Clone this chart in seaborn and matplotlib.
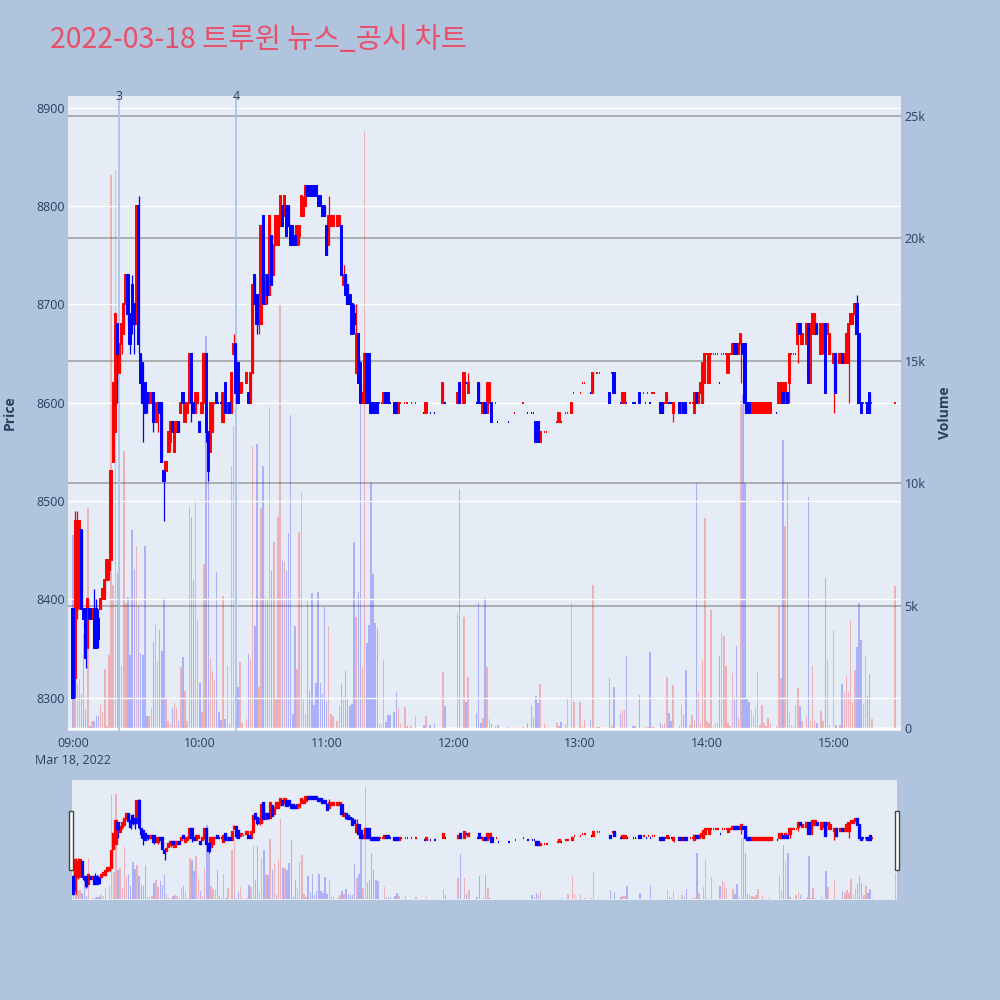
import matplotlib
matplotlib.use("Agg")
import matplotlib.pyplot as plt
from matplotlib.patches import Rectangle
import numpy as np
import pandas as pd
import seaborn as sns

# ---------------- data ----------------
title = "2022-03-18 트루윈 뉴스_공시 차트"

# minutes after 09:00 (only minutes with trades)
minute = [0, 1, 2, 3, 4, 5, 6, 7, 8, 9,
          10, 11, 12, 13, 14, 15, 16, 17, 18, 19,
          20, 21, 22, 23, 24, 25, 26, 27, 28, 29,
          30, 31, 32, 33, 34, 35, 36, 37, 38, 39,
          40, 41, 42, 43, 44, 45, 46, 47, 48, 49,
          50, 51, 52, 53, 54, 55, 56, 57, 58, 59,
          60, 61, 62, 63, 64, 65, 66, 67, 68, 69,
          70, 71, 72, 73, 74, 75, 76, 77, 78, 79,
          80, 82, 83, 84, 85, 86, 87, 88, 89, 90,
          91, 92, 93, 94, 95, 96, 97, 98, 99, 100,
          101, 102, 103, 104, 105, 106, 107, 108, 109, 110,
          111, 112, 113, 114, 115, 116, 117, 118, 119, 120,
          121, 122, 123, 125, 126, 127, 128, 129, 130, 131,
          132, 133, 134, 135, 136, 137, 138, 139, 140, 141,
          142, 143, 144, 145, 146, 147, 148, 149, 150, 152,
          153, 154, 155, 157, 158, 160, 162, 166, 167, 169,
          171, 175, 176, 182, 183, 185, 186, 187, 191, 192,
          193, 194, 195, 196, 197, 198, 200, 201, 206, 209,
          213, 215, 217, 218, 219, 220, 221, 223, 224, 229,
          230, 231, 233, 234, 236, 237, 240, 241, 242, 245,
          246, 248, 249, 254, 255, 256, 259, 260, 261, 262,
          265, 266, 268, 270, 271, 272, 273, 274, 275, 278,
          279, 280, 281, 282, 283, 284, 287, 288, 289, 290,
          292, 293, 294, 295, 296, 297, 298, 299, 300, 301,
          302, 303, 304, 305, 306, 307, 308, 309, 310, 311,
          312, 313, 314, 315, 316, 317, 318, 319, 320, 321,
          322, 323, 324, 325, 326, 327, 328, 329, 330, 333,
          334, 335, 336, 337, 338, 339, 340, 341, 342, 343,
          344, 345, 347, 348, 349, 350, 351, 352, 354, 355,
          356, 357, 358, 360, 361, 363, 364, 365, 366, 367,
          368, 369, 370, 371, 372, 373, 374, 375, 376, 377,
          378, 389]

open_ = [8390, 8320, 8390, 8470, 8470, 8390, 8390, 8350, 8390, 8380,
         8390, 8390, 8380, 8390, 8400, 8400, 8420, 8430, 8440, 8540,
         8570, 8680, 8630, 8660, 8670, 8700, 8730, 8690, 8720, 8700,
         8680, 8800, 8650, 8640, 8620, 8610, 8600, 8600, 8610, 8580,
         8580, 8600, 8600, 8530, 8530, 8550, 8560, 8580, 8550, 8570,
         8580, 8590, 8610, 8580, 8590, 8600, 8650, 8600, 8590, 8600,
         8580, 8590, 8600, 8650, 8570, 8550, 8570, 8600, 8610, 8600,
         8600, 8580, 8620, 8590, 8600, 8590, 8650, 8660, 8640, 8610,
         8620, 8620, 8610, 8600, 8630, 8730, 8710, 8680, 8680, 8790,
         8700, 8730, 8710, 8770, 8730, 8760, 8760, 8780, 8800, 8790,
         8800, 8800, 8780, 8780, 8770, 8760, 8770, 8790, 8790, 8800,
         8820, 8820, 8820, 8820, 8820, 8810, 8810, 8800, 8800, 8780,
         8760, 8780, 8780, 8780, 8780, 8780, 8720, 8730, 8720, 8710,
         8700, 8690, 8630, 8670, 8640, 8600, 8600, 8650, 8650, 8600,
         8600, 8600, 8600, 8600, 8600, 8600, 8610, 8610, 8600, 8600,
         8600, 8590, 8600, 8600, 8600, 8600, 8600, 8590, 8590, 8590,
         8590, 8600, 8600, 8600, 8620, 8600, 8620, 8610, 8600, 8620,
         8600, 8590, 8600, 8590, 8600, 8600, 8600, 8580, 8580, 8590,
         8600, 8590, 8590, 8590, 8580, 8580, 8560, 8570, 8570, 8580,
         8580, 8580, 8590, 8590, 8590, 8610, 8610, 8620, 8620, 8610,
         8610, 8630, 8630, 8610, 8630, 8630, 8600, 8600, 8600, 8600,
         8600, 8600, 8610, 8610, 8600, 8610, 8600, 8610, 8610, 8600,
         8600, 8600, 8600, 8600, 8600, 8590, 8600, 8590, 8600, 8600,
         8600, 8600, 8590, 8610, 8600, 8610, 8600, 8620, 8650, 8620,
         8650, 8650, 8650, 8650, 8620, 8650, 8650, 8650, 8630, 8650,
         8650, 8660, 8660, 8650, 8660, 8660, 8660, 8600, 8600, 8590,
         8590, 8590, 8590, 8590, 8590, 8590, 8590, 8590, 8590, 8590,
         8600, 8600, 8610, 8600, 8610, 8620, 8650, 8650, 8650, 8660,
         8680, 8660, 8660, 8680, 8620, 8670, 8670, 8680, 8650, 8660,
         8680, 8670, 8650, 8640, 8650, 8640, 8650, 8640, 8640, 8640,
         8680, 8680, 8690, 8700, 8670, 8600, 8600, 8600, 8600, 8610,
         8600, 8600]

high = [8390, 8490, 8490, 8480, 8470, 8390, 8390, 8400, 8390, 8390,
        8410, 8400, 8390, 8400, 8410, 8420, 8440, 8440, 8530, 8620,
        8690, 8680, 8660, 8680, 8700, 8730, 8730, 8690, 8730, 8700,
        8800, 8810, 8650, 8640, 8620, 8610, 8610, 8610, 8610, 8600,
        8600, 8600, 8600, 8530, 8540, 8570, 8580, 8580, 8580, 8580,
        8580, 8600, 8610, 8600, 8600, 8650, 8650, 8600, 8610, 8610,
        8580, 8600, 8650, 8650, 8570, 8600, 8600, 8600, 8610, 8600,
        8600, 8610, 8620, 8600, 8600, 8630, 8670, 8660, 8640, 8620,
        8620, 8630, 8610, 8630, 8720, 8730, 8710, 8700, 8780, 8790,
        8730, 8730, 8790, 8770, 8760, 8790, 8790, 8810, 8800, 8810,
        8800, 8800, 8780, 8780, 8770, 8780, 8780, 8810, 8810, 8820,
        8820, 8820, 8820, 8820, 8820, 8810, 8810, 8800, 8800, 8780,
        8810, 8790, 8790, 8790, 8790, 8780, 8740, 8730, 8720, 8710,
        8700, 8700, 8700, 8670, 8640, 8620, 8650, 8650, 8650, 8600,
        8600, 8600, 8600, 8600, 8600, 8610, 8610, 8610, 8600, 8600,
        8600, 8600, 8600, 8600, 8600, 8600, 8600, 8590, 8600, 8590,
        8590, 8620, 8600, 8610, 8620, 8630, 8620, 8630, 8600, 8620,
        8600, 8600, 8600, 8620, 8620, 8600, 8600, 8580, 8580, 8590,
        8600, 8590, 8590, 8590, 8580, 8580, 8570, 8570, 8570, 8580,
        8590, 8580, 8590, 8590, 8600, 8610, 8610, 8620, 8620, 8610,
        8630, 8630, 8630, 8610, 8630, 8630, 8600, 8610, 8610, 8600,
        8600, 8600, 8610, 8610, 8600, 8610, 8600, 8610, 8610, 8600,
        8600, 8600, 8610, 8600, 8600, 8600, 8600, 8600, 8600, 8600,
        8600, 8600, 8610, 8610, 8610, 8620, 8640, 8650, 8650, 8650,
        8650, 8650, 8650, 8650, 8620, 8650, 8650, 8650, 8650, 8650,
        8660, 8660, 8660, 8660, 8670, 8660, 8660, 8600, 8600, 8600,
        8600, 8600, 8600, 8600, 8600, 8600, 8600, 8600, 8600, 8590,
        8620, 8620, 8610, 8620, 8610, 8650, 8650, 8650, 8650, 8680,
        8680, 8670, 8680, 8680, 8680, 8690, 8690, 8680, 8680, 8680,
        8680, 8680, 8670, 8650, 8650, 8650, 8650, 8650, 8670, 8680,
        8690, 8690, 8700, 8710, 8670, 8600, 8600, 8600, 8600, 8610,
        8600, 8600]

low = [8300, 8300, 8380, 8390, 8390, 8370, 8330, 8350, 8380, 8380,
       8350, 8350, 8350, 8390, 8400, 8400, 8420, 8420, 8440, 8540,
       8570, 8600, 8630, 8650, 8670, 8700, 8680, 8650, 8670, 8650,
       8680, 8650, 8600, 8560, 8590, 8590, 8600, 8600, 8570, 8580,
       8570, 8590, 8540, 8480, 8530, 8550, 8550, 8570, 8550, 8570,
       8570, 8590, 8600, 8580, 8590, 8600, 8580, 8590, 8590, 8600,
       8570, 8590, 8600, 8560, 8520, 8550, 8570, 8600, 8600, 8600,
       8600, 8580, 8590, 8590, 8590, 8590, 8650, 8600, 8600, 8610,
       8610, 8620, 8600, 8600, 8630, 8700, 8670, 8670, 8680, 8700,
       8700, 8700, 8710, 8720, 8730, 8760, 8760, 8780, 8780, 8790,
       8770, 8780, 8760, 8760, 8760, 8760, 8760, 8790, 8790, 8800,
       8810, 8810, 8810, 8810, 8810, 8800, 8800, 8790, 8790, 8750,
       8760, 8780, 8780, 8780, 8780, 8730, 8720, 8700, 8700, 8700,
       8670, 8670, 8630, 8620, 8600, 8600, 8600, 8600, 8600, 8590,
       8590, 8590, 8590, 8600, 8600, 8600, 8600, 8600, 8600, 8590,
       8590, 8590, 8600, 8600, 8600, 8600, 8600, 8590, 8590, 8590,
       8590, 8600, 8600, 8600, 8600, 8600, 8620, 8610, 8600, 8600,
       8600, 8590, 8590, 8590, 8600, 8580, 8600, 8580, 8580, 8590,
       8600, 8590, 8590, 8590, 8560, 8560, 8560, 8570, 8570, 8580,
       8580, 8580, 8590, 8590, 8590, 8610, 8610, 8620, 8620, 8610,
       8610, 8630, 8630, 8600, 8630, 8610, 8600, 8600, 8600, 8600,
       8600, 8600, 8600, 8610, 8600, 8610, 8600, 8610, 8610, 8590,
       8590, 8600, 8600, 8600, 8600, 8580, 8590, 8590, 8590, 8590,
       8600, 8600, 8590, 8600, 8600, 8610, 8600, 8620, 8650, 8620,
       8650, 8650, 8650, 8650, 8620, 8650, 8650, 8650, 8630, 8650,
       8650, 8650, 8650, 8650, 8620, 8650, 8590, 8590, 8590, 8590,
       8590, 8590, 8590, 8590, 8590, 8590, 8590, 8590, 8590, 8590,
       8600, 8600, 8600, 8600, 8600, 8600, 8650, 8650, 8650, 8640,
       8670, 8660, 8660, 8620, 8620, 8670, 8670, 8670, 8650, 8650,
       8610, 8670, 8650, 8590, 8610, 8640, 8640, 8640, 8640, 8600,
       8680, 8680, 8690, 8670, 8600, 8590, 8600, 8600, 8590, 8590,
       8600, 8600]

close = [8300, 8480, 8470, 8480, 8390, 8380, 8340, 8400, 8380, 8390,
         8350, 8350, 8360, 8400, 8410, 8420, 8440, 8440, 8530, 8620,
         8690, 8650, 8660, 8680, 8700, 8730, 8690, 8660, 8680, 8680,
         8800, 8660, 8620, 8600, 8590, 8600, 8610, 8610, 8580, 8600,
         8600, 8590, 8540, 8520, 8540, 8570, 8580, 8570, 8580, 8580,
         8570, 8600, 8600, 8600, 8600, 8650, 8600, 8590, 8610, 8610,
         8570, 8600, 8650, 8570, 8530, 8600, 8600, 8600, 8600, 8600,
         8600, 8610, 8590, 8600, 8590, 8630, 8660, 8610, 8600, 8620,
         8620, 8630, 8600, 8630, 8720, 8700, 8680, 8700, 8780, 8700,
         8730, 8710, 8790, 8720, 8760, 8790, 8790, 8810, 8780, 8810,
         8770, 8780, 8760, 8760, 8760, 8780, 8780, 8810, 8800, 8820,
         8810, 8810, 8810, 8810, 8810, 8800, 8800, 8790, 8790, 8750,
         8790, 8790, 8790, 8790, 8790, 8730, 8730, 8710, 8700, 8700,
         8670, 8680, 8670, 8620, 8600, 8610, 8650, 8600, 8600, 8590,
         8590, 8590, 8590, 8600, 8600, 8610, 8600, 8600, 8600, 8590,
         8590, 8600, 8600, 8600, 8600, 8600, 8600, 8590, 8600, 8590,
         8590, 8620, 8600, 8610, 8600, 8630, 8620, 8620, 8600, 8600,
         8600, 8600, 8590, 8620, 8620, 8580, 8600, 8580, 8580, 8590,
         8600, 8590, 8590, 8590, 8560, 8560, 8570, 8570, 8570, 8580,
         8590, 8580, 8590, 8590, 8600, 8610, 8610, 8620, 8620, 8610,
         8630, 8630, 8630, 8600, 8630, 8610, 8600, 8610, 8610, 8600,
         8600, 8600, 8600, 8610, 8600, 8610, 8600, 8610, 8610, 8590,
         8590, 8600, 8610, 8600, 8600, 8600, 8590, 8600, 8590, 8590,
         8600, 8600, 8610, 8600, 8610, 8620, 8640, 8650, 8650, 8650,
         8650, 8650, 8650, 8650, 8620, 8650, 8650, 8650, 8650, 8650,
         8660, 8650, 8650, 8660, 8670, 8650, 8600, 8590, 8590, 8600,
         8600, 8600, 8600, 8600, 8600, 8600, 8600, 8600, 8600, 8590,
         8620, 8620, 8600, 8620, 8600, 8650, 8650, 8650, 8650, 8680,
         8670, 8670, 8680, 8620, 8680, 8690, 8690, 8670, 8680, 8680,
         8610, 8680, 8670, 8650, 8610, 8650, 8640, 8650, 8670, 8680,
         8690, 8690, 8700, 8670, 8600, 8590, 8600, 8600, 8590, 8590,
         8600, 8600]

volume = [7870, 3350, 1820, 2000, 1380, 3860, 770, 9000, 100, 290,
          290, 510, 510, 950, 650, 2400, 100, 3000, 22600, 5830,
          22800, 6340, 6800, 2550, 11300, 5100, 5350, 3000, 8100, 6500,
          7430, 5000, 3050, 3000, 7430, 500, 500, 800, 3500, 4230,
          2700, 4000, 3150, 5320, 1170, 290, 150, 800, 1020, 800,
          290, 2480, 2900, 1530, 290, 9040, 8600, 6050, 9330, 4450,
          1830, 650, 6700, 16000, 10100, 2840, 2330, 1970, 6370, 670,
          330, 5390, 380, 2550, 180, 10700, 12350, 400, 1680, 2700,
          220, 360, 3020, 2770, 11500, 4150, 11590, 1680, 9000, 10700,
          5390, 5250, 13100, 6410, 7580, 1240, 8600, 17300, 6850, 6780,
          6410, 7950, 12800, 580, 4150, 2400, 8020, 9620, 1240, 580,
          5170, 1530, 5500, 950, 1820, 5540, 1820, 1380, 4950, 1090,
          4150, 580, 510, 300, 900, 1800, 1200, 2330, 1200, 900,
          1000, 7600, 4550, 5570, 15200, 2440, 24400, 3460, 4200, 10000,
          6300, 4280, 4070, 150, 150, 2780, 260, 530, 530, 670,
          1480, 800, 150, 850, 100, 100, 490, 130, 490, 130,
          160, 2300, 900, 4690, 9750, 4550, 1080, 2070, 600, 5100,
          200, 400, 5300, 2500, 360, 160, 80, 110, 60, 60,
          60, 200, 940, 460, 1300, 1040, 1800, 160, 60, 190,
          100, 260, 160, 1170, 5120, 1080, 1080, 100, 330, 330,
          5840, 60, 60, 2030, 100, 1660, 600, 740, 750, 2960,
          70, 70, 1360, 60, 60, 60, 3090, 60, 60, 200,
          100, 200, 2080, 610, 270, 1770, 70, 950, 540, 2360,
          140, 540, 340, 10000, 1460, 200, 2770, 8580, 270, 200,
          4840, 100, 200, 200, 2960, 3880, 3750, 2550, 200, 100,
          2250, 1230, 3340, 410, 13350, 13600, 10000, 1190, 1050, 750,
          480, 860, 2320, 140, 950, 200, 100, 410, 200, 70,
          4970, 2040, 11760, 8240, 10000, 610, 140, 100, 950, 1630,
          880, 270, 480, 9440, 300, 2520, 340, 200, 680, 300,
          6130, 2790, 140, 3990, 140, 140, 1810, 1430, 2110, 1460,
          4360, 1050, 2360, 3310, 5110, 3610, 1000, 2960, 1320, 2220,
          370, 5790]

news_minute = [21.7, 77.1]
news_label = ["3", "4"]

price_ticks = [8300, 8400, 8500, 8600, 8700, 8800, 8900]
volume_ticks = [0, 5000, 10000, 15000, 20000, 25000]
volume_ticklabels = ["0", "5k", "10k", "15k", "20k", "25k"]
time_ticks = [0, 60, 120, 180, 240, 300, 360]
time_ticklabels = ["09:00\nMar 18, 2022", "10:00", "11:00", "12:00",
                   "13:00", "14:00", "15:00"]

assert len({len(minute), len(open_), len(high), len(low), len(close), len(volume)}) == 1

# ---------------- style ----------------
sns.set_theme(style="white")
plt.rcParams["font.family"] = ["Open Sans", "Noto Sans CJK KR", "DejaVu Sans"]

BG = "#B0C4DE"
PLOT_BG = "#E5ECF6"
UP = "#FF0000"
DOWN = "#0000FF"
TXT = "#2A3F5F"

# candle direction (plotly rule: flat candles compare with previous close)
dirs = []
prev_c, prev_d = None, "up"
for o, c in zip(open_, close):
    if c > o:
        d = "up"
    elif c < o:
        d = "down"
    elif prev_c is None or c == prev_c:
        d = prev_d
    else:
        d = "up" if c > prev_c else "down"
    dirs.append(d)
    prev_c, prev_d = c, d

df = pd.DataFrame({"minute": minute, "open": open_, "high": high, "low": low,
                   "close": close, "volume": volume, "dir": dirs})

PRICE_LIM = (8266, 8912)
VOL_LIM = (-123, 25817)


def draw_candles(ax, body_lw=1.4):
    for d, col in (("up", UP), ("down", DOWN)):
        s = df[df["dir"] == d]
        ax.vlines(s["minute"], s["low"], s["high"], color=col, lw=0.9, zorder=3)
        ax.bar(s["minute"], s["close"] - s["open"], bottom=s["open"], width=0.6,
               color=col, edgecolor=col, linewidth=body_lw, zorder=4)


def draw_volume(ax):
    sns.histplot(data=df, x="minute", weights="volume", hue="dir",
                 hue_order=["up", "down"], palette={"up": UP, "down": DOWN},
                 discrete=True, shrink=0.7, alpha=0.25, linewidth=0,
                 multiple="layer", element="bars", legend=False, ax=ax)


def clean(ax):
    for sp in ax.spines.values():
        sp.set_visible(False)


fig = plt.figure(figsize=(10, 10), dpi=100)
fig.patch.set_facecolor(BG)

# ---------------- main chart ----------------
ax_p = fig.add_axes([0.068, 0.269, 0.8325, 0.635])
ax_v = ax_p.twinx()
ax_v.set_zorder(1)
ax_p.set_zorder(2)
ax_p.patch.set_visible(False)
ax_v.patch.set_visible(True)
ax_v.patch.set_facecolor(PLOT_BG)

draw_volume(ax_v)
ax_v.set_ylim(*VOL_LIM)
ax_v.set_yticks(volume_ticks, volume_ticklabels)
ax_v.set_axisbelow(True)
ax_v.yaxis.grid(True, color="#9C9C9C", lw=1.1)
ax_v.xaxis.grid(False)
ax_v.axhline(0, color="white", lw=2, zorder=0.8)
ax_v.set_ylabel("")
ax_v.set_xlabel("")
ax_v.tick_params(axis="y", length=0, pad=3, labelsize=9, labelcolor=TXT)
clean(ax_v)

draw_candles(ax_p)
for m, lab in zip(news_minute, news_label):
    ax_p.axvline(m, color="#A9BFEA", lw=1.4, alpha=0.85, zorder=2)
    ax_p.text(m, 1.0, lab, transform=ax_p.get_xaxis_transform(), ha="center",
              va="center", fontsize=9, color=TXT, zorder=6, clip_on=False)
ax_p.set_ylim(*PRICE_LIM)
ax_p.set_yticks(price_ticks, [str(t) for t in price_ticks])
ax_p.yaxis.grid(True, color="white", lw=1.0)
ax_p.xaxis.grid(False)
ax_p.set_xlim(-2.4, 391.6)
ax_p.set_xticks(time_ticks, time_ticklabels)
for lbl in ax_p.get_xticklabels():
    lbl.set_linespacing(1.4)
ax_p.tick_params(axis="y", length=0, pad=2, labelsize=9, labelcolor=TXT)
ax_p.tick_params(axis="x", length=0, pad=4, labelsize=9, labelcolor=TXT)
ax_p.set_xlabel("")
ax_p.set_ylabel("")
clean(ax_p)

fig.text(0.010, 0.587, "Price", rotation=90, ha="center", va="center",
         fontsize=10, fontweight="bold", color=TXT)
fig.text(0.945, 0.587, "Volume", rotation=90, ha="center", va="center",
         fontsize=10, fontweight="bold", color=TXT)

fig.text(0.050, 0.960, title, ha="left", va="center", fontsize=20.5,
         color="#E8506A", family=["Noto Sans CJK KR", "DejaVu Sans"])

# ---------------- range slider ----------------
ax_s = fig.add_axes([0.072, 0.100, 0.825, 0.120])
ax_sv = ax_s.twinx()
ax_sv.set_zorder(1)
ax_s.set_zorder(2)
ax_s.patch.set_visible(False)
ax_sv.patch.set_visible(True)
ax_sv.patch.set_facecolor(PLOT_BG)
draw_volume(ax_sv)
ax_sv.set_ylim(*VOL_LIM)
draw_candles(ax_s, body_lw=1.6)
ax_s.set_ylim(*PRICE_LIM)
ax_s.set_xlim(-0.8, 389.7)
for a in (ax_s, ax_sv):
    a.set_xticks([])
    a.set_yticks([])
    a.set_xlabel("")
    a.set_ylabel("")
    a.grid(False)
    clean(a)

for x0 in (0.0693, 0.8953):
    fig.add_artist(Rectangle((x0, 0.130), 0.004, 0.0595, transform=fig.transFigure,
                             facecolor="white", edgecolor="#444444", lw=1.0, zorder=10))

fig.savefig("out.png", dpi=100, facecolor=BG)
